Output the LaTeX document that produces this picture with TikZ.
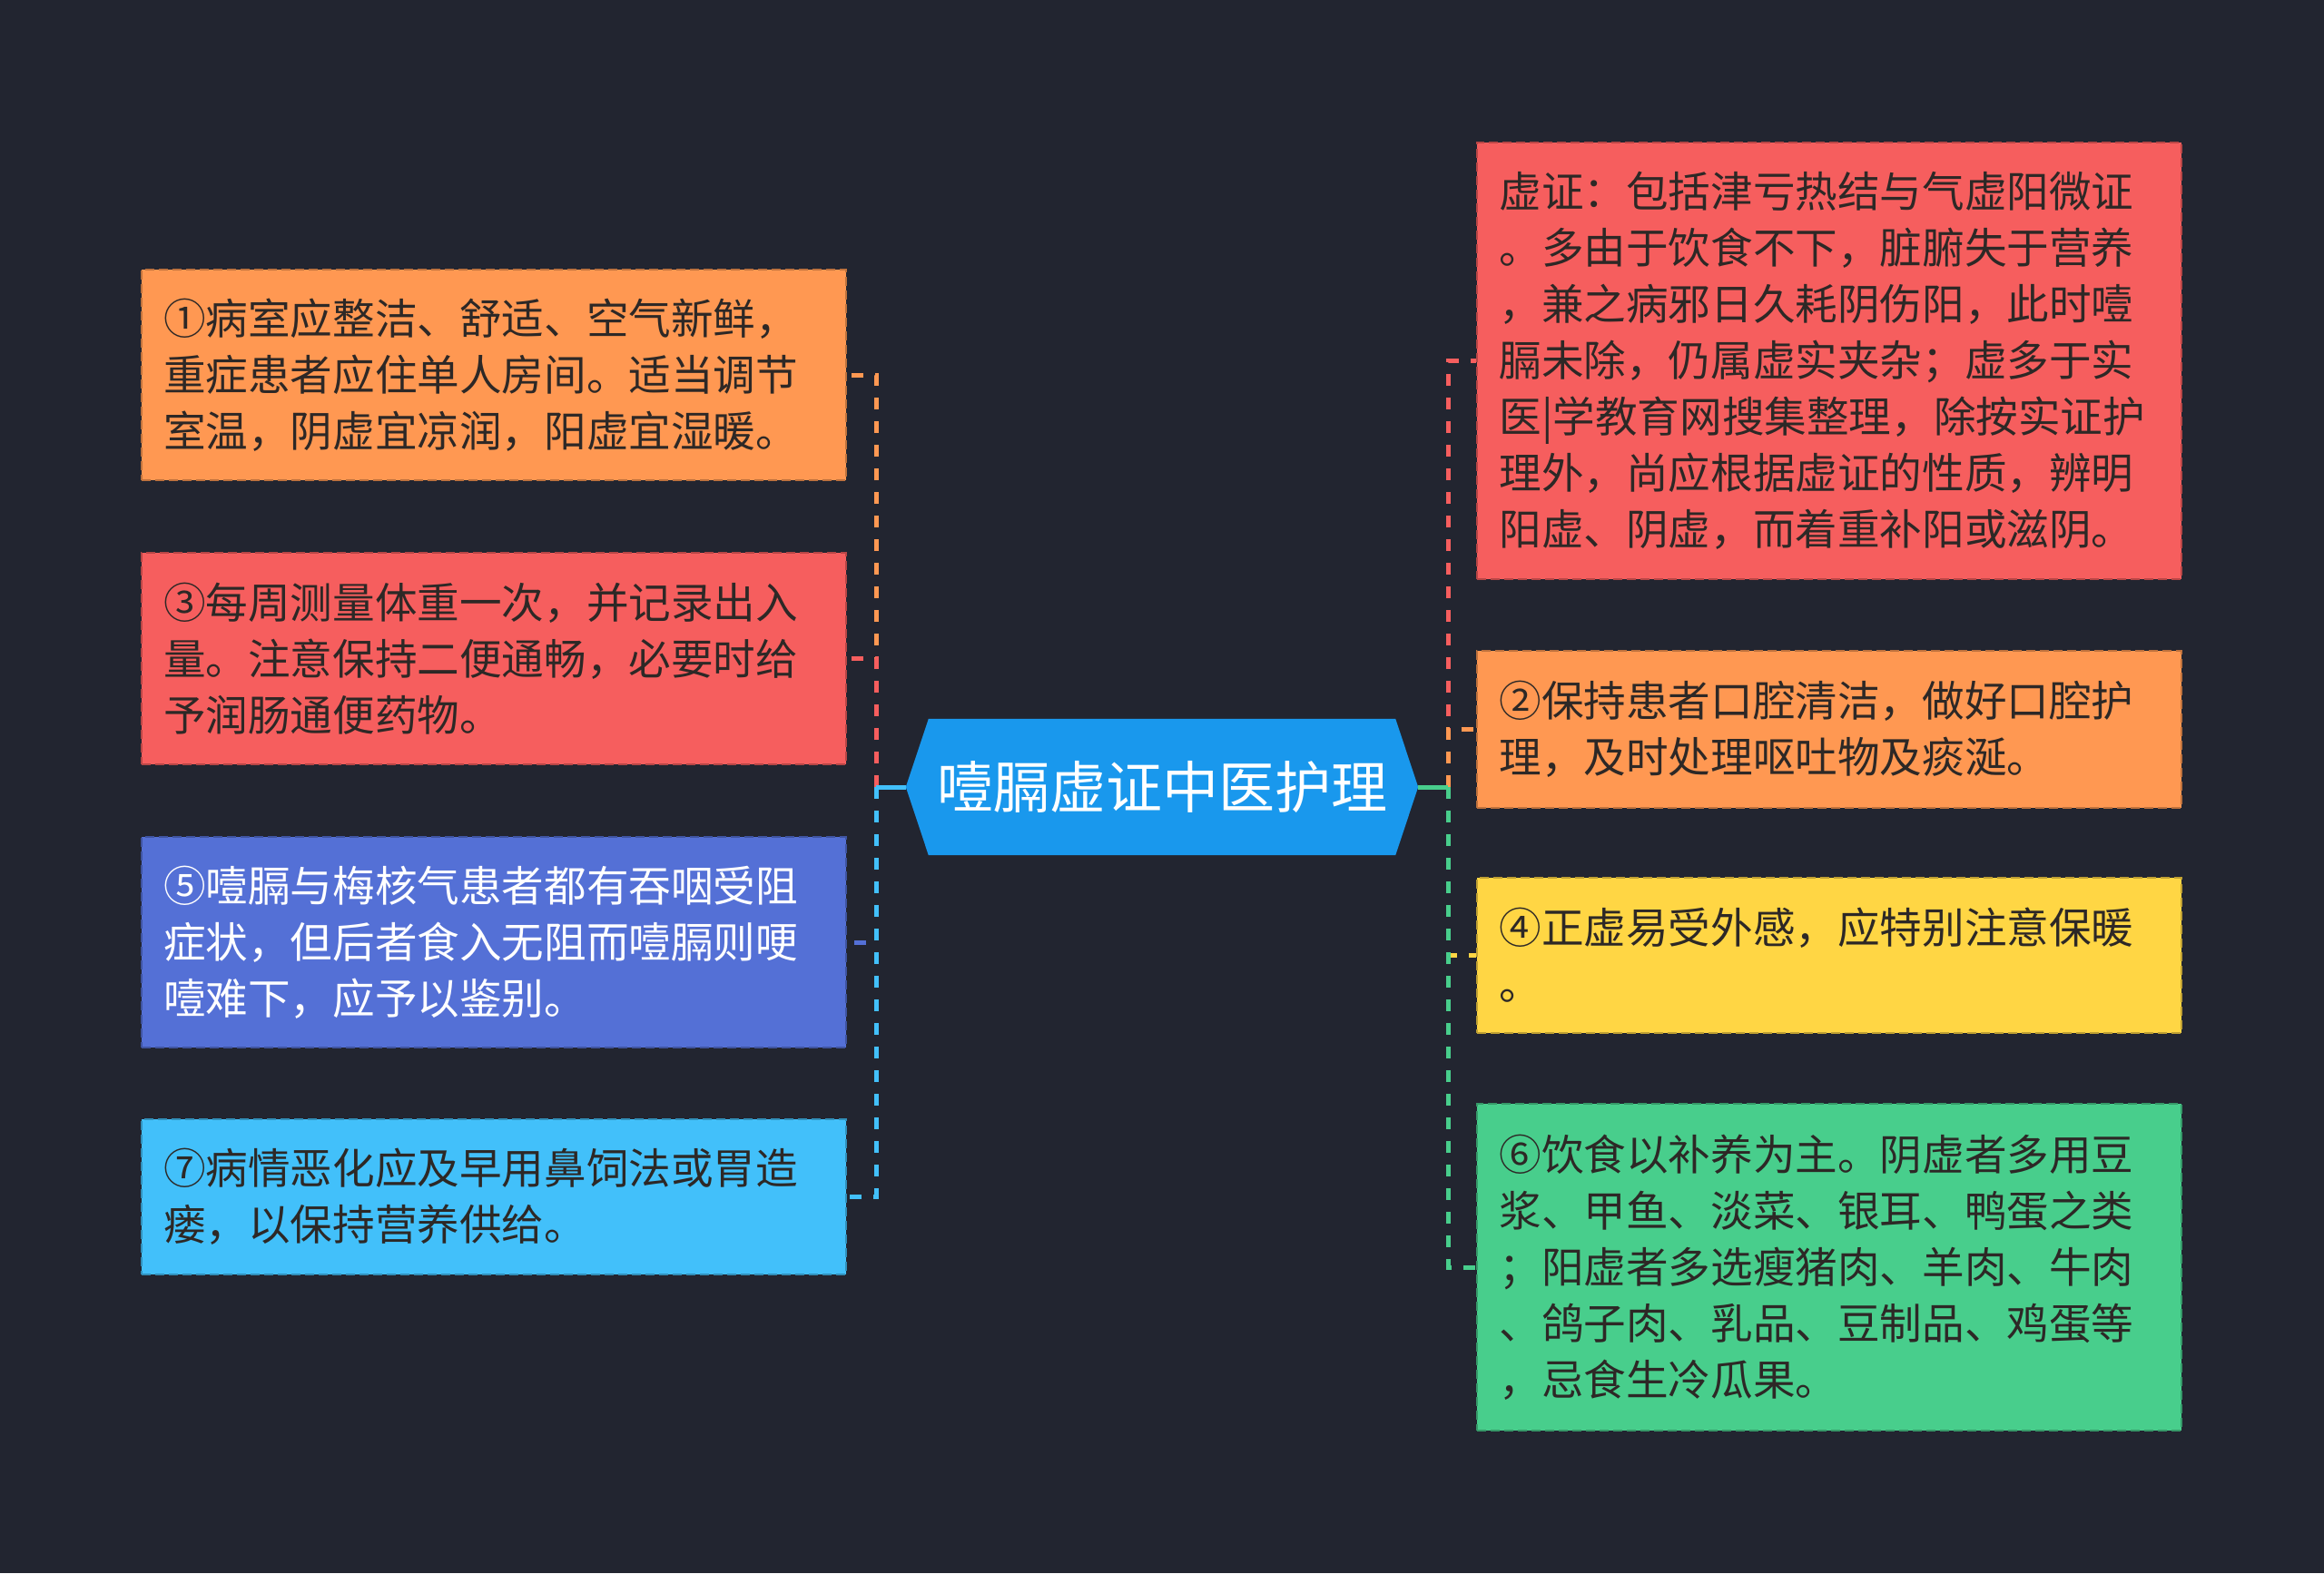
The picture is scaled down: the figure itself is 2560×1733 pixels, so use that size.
\documentclass[tikz,border=0pt]{standalone}
\usepackage{fontspec}
\setmainfont{Noto Sans CJK SC}
\usetikzlibrary{backgrounds,calc}
\definecolor{bgc}{RGB}{34,37,48}
\definecolor{cOrange}{RGB}{255,152,82}
\definecolor{cRed}{RGB}{246,94,94}
\definecolor{cIndigo}{RGB}{84,112,214}
\definecolor{cCyan}{RGB}{66,192,250}
\definecolor{cYellow}{RGB}{255,214,68}
\definecolor{cGreen}{RGB}{72,206,140}
\definecolor{cBlue}{RGB}{25,152,237}
\definecolor{txt}{RGB}{45,40,38}
\begin{document}
\begin{tikzpicture}[x=1pt,y=-1pt,
  box/.style={minimum width=776pt, text width=727pt, inner xsep=24.5pt, inner ysep=0pt,
    align=left, font=\fontsize{46.6}{62}\selectfont, text=txt,
    line width=2pt, dash pattern=on 10pt off 5pt},
  hbar/.style={line width=5pt},
  trunk/.style={line width=5pt, dash pattern=on 13pt off 13pt}]
\begin{pgfonlayer}{background}
\fill[bgc] (0,0) rectangle (2560,1733);
\end{pgfonlayer}
\useasboundingbox (0,0) rectangle (2560,1733);

% central node
\node[font=\fontsize{62}{70}\selectfont, text=white, minimum width=564pt, minimum height=150pt, inner sep=0pt] (c) at (1280,867) {噎膈虚证中医护理};
\begin{pgfonlayer}{background}
\fill[cBlue] (c.west) -- ($(c.north west)+(25,0)$) -- ($(c.north east)+(-25,0)$) -- (c.east)
  -- ($(c.south east)+(-25,0)$) -- ($(c.south west)+(25,0)$) -- cycle;
\end{pgfonlayer}

\coordinate (lj) at (965,867);
\coordinate (rj) at (1595,867);

% left boxes
\node[box, fill=cOrange, draw=cOrange!75!black, minimum height=232pt] (l1) at (543.5,413)
 {①病室应整洁、舒适、空气新鲜，\\重症患者应住单人房间。适当调节\\室温，阴虚宜凉润，阳虚宜湿暖。};
\node[box, fill=cRed, draw=cRed!75!black, minimum height=233pt] (l3) at (543.5,725.5)
 {③每周测量体重一次，并记录出入\\量。注意保持二便通畅，必要时给\\予润肠通便药物。};
\node[box, fill=cIndigo, draw=cIndigo!75!black, text=white, minimum height=232pt] (l5) at (543.5,1038)
 {⑤噎膈与梅核气患者都有吞咽受阻\\症状，但后者食入无阻而噎膈则哽\\噎难下，应予以鉴别。};
\node[box, fill=cCyan, draw=cCyan!75!black, minimum height=171pt] (l7) at (543.5,1318.5)
 {⑦病情恶化应及早用鼻饲法或胃造\\瘘，以保持营养供给。};

% right boxes
\node[box, fill=cRed, draw=cRed!75!black, minimum height=481pt] (r0) at (2015,397.5)
 {虚证：包括津亏热结与气虚阳微证\\。多由于饮食不下，脏腑失于营养\\，兼之病邪日久耗阴伤阳，此时噎\\膈未除，仍属虚实夹杂；虚多于实\\医|学教育网搜集整理，除按实证护\\理外，尚应根据虚证的性质，辨明\\阳虚、阴虚，而着重补阳或滋阴。};
\node[box, fill=cOrange, draw=cOrange!75!black, minimum height=173pt] (r2) at (2015,803.5)
 {②保持患者口腔清洁，做好口腔护\\理，及时处理呕吐物及痰涎。};
\node[box, fill=cYellow, draw=cYellow!75!black, minimum height=171pt] (r4) at (2015,1052.5)
 {④正虚易受外感，应特别注意保暖\\。};
\node[box, fill=cGreen, draw=cGreen!75!black, minimum height=360pt] (r6) at (2015,1396)
 {⑥饮食以补养为主。阴虚者多用豆\\浆、甲鱼、淡菜、银耳、鸭蛋之类\\；阳虚者多选瘦猪肉、羊肉、牛肉\\、鸽子肉、乳品、豆制品、鸡蛋等\\，忌食生冷瓜果。};

% left connectors
\foreach \b/\col in {l1/cOrange, l3/cRed, l5/cIndigo, l7/cCyan}{
  \draw[hbar, \col] (c.west) -- (lj);
  \draw[trunk, \col] (lj) |- (\b.east);
}
% right connectors
\foreach \b/\col in {r0/cRed, r2/cOrange, r4/cYellow, r6/cGreen}{
  \draw[hbar, \col] (c.east) -- (rj);
  \draw[trunk, \col] (rj) |- (\b.west);
}
\end{tikzpicture}
\end{document}
